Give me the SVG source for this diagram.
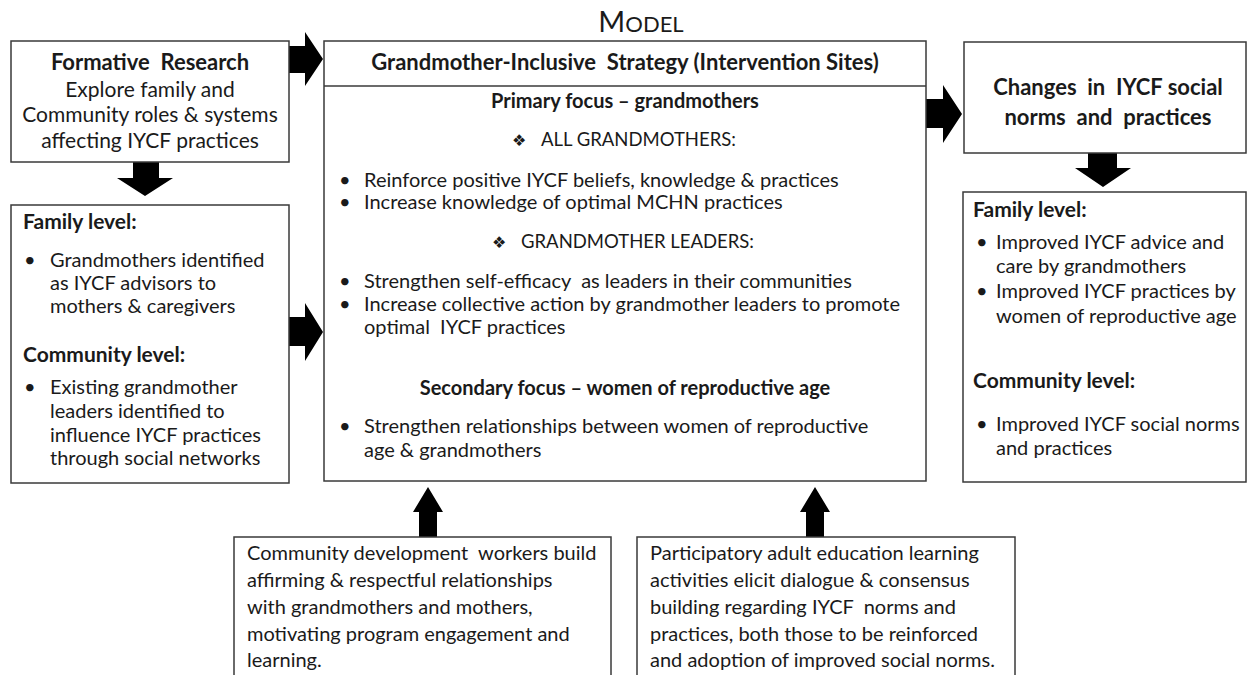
<svg xmlns="http://www.w3.org/2000/svg" width="1248" height="675" viewBox="0 0 1248 675">
<style>
.box{fill:#fff;stroke:#3a3a3a;stroke-width:1.5}
.t{font-family:Lato,"Open Sans","Liberation Sans",sans-serif;fill:#1a1a1a}
.b{font-weight:bold}
.m{font-size:20px}
.l{font-size:20px}
.h{font-size:22px}
.s{font-size:21px}
.k{font-size:18.5px}
.c{text-anchor:middle}
.pre{white-space:pre}
.sym{font-family:"DejaVu Sans",sans-serif;font-size:16px}
.arr{fill:#000}
</style>
<rect width="1248" height="675" fill="#fff"/>
<text class="t c" x="641" y="32"><tspan font-size="29">M</tspan><tspan font-size="22">ODEL</tspan></text>

<g id="connectors">
<polygon class="arr" points="289,46 305,46 305,32 323,59 305,86 305,73 289,73"/>
<polygon class="arr" points="289,317 305,317 305,303 323,332 305,361 305,346 289,346"/>
<polygon class="arr" points="926,99 943,99 943,85 962,114 943,143 943,128 926,128"/>
<polygon class="arr" points="133,162 159,162 159,178 173,178 145,196 117,178 133,178"/>
<polygon class="arr" points="1088,153 1117,153 1117,168 1131,168 1103,187 1075,168 1088,168"/>
<polygon class="arr" points="419,537 437,537 437,512 443,512 428,487 413,512 419,512"/>
<polygon class="arr" points="806,537 824,537 824,512 830,512 815,487 800,512 806,512"/>
</g>

<g id="formative">
<rect class="box" x="11" y="41" width="278" height="121"/>
<text class="t b h c pre" x="150" y="70" xml:space="preserve">Formative  Research</text>
<text class="t s c" x="150" y="97">Explore family and</text>
<text class="t s c" x="150" y="122">Community roles &amp; systems</text>
<text class="t s c" x="150" y="148">affecting IYCF practices</text>
</g>

<g id="findings">
<rect class="box" x="11" y="205" width="278" height="278"/>
<text class="t b s" x="23" y="229">Family level:</text>
<text class="t l" x="24" y="267">•</text>
<text class="t l" x="50" y="267">Grandmothers identified</text>
<text class="t l" x="50" y="290">as IYCF advisors to</text>
<text class="t l" x="50" y="313">mothers &amp; caregivers</text>
<text class="t b s" x="23" y="362">Community level:</text>
<text class="t l" x="24" y="394">•</text>
<text class="t l" x="50" y="394">Existing grandmother</text>
<text class="t l" x="50" y="418">leaders identified to</text>
<text class="t l" x="50" y="442">influence IYCF practices</text>
<text class="t l" x="50" y="465">through social networks</text>
</g>

<g id="strategy">
<rect class="box" x="324" y="41" width="602" height="440"/>
<line x1="324" y1="86" x2="926" y2="86" stroke="#3a3a3a" stroke-width="1.5"/>
<text class="t b h c pre" x="625" y="70" xml:space="preserve">Grandmother-Inclusive  Strategy (Intervention Sites)</text>
<text class="t b m c" x="625" y="108">Primary focus – grandmothers</text>
<text class="t k" x="512" y="146"><tspan class="sym">❖</tspan><tspan x="541">ALL GRANDMOTHERS:</tspan></text>
<text class="t m" x="339" y="187">•</text>
<text class="t m" x="364" y="187">Reinforce positive IYCF beliefs, knowledge &amp; practices</text>
<text class="t m" x="339" y="209">•</text>
<text class="t m" x="364" y="209">Increase knowledge of optimal MCHN practices</text>
<text class="t k" x="492" y="248"><tspan class="sym">❖</tspan><tspan x="521">GRANDMOTHER LEADERS:</tspan></text>
<text class="t m" x="339" y="288">•</text>
<text class="t m pre" x="364" y="288" xml:space="preserve">Strengthen self-efficacy  as leaders in their communities</text>
<text class="t m" x="339" y="311">•</text>
<text class="t m" x="364" y="311">Increase collective action by grandmother leaders to promote</text>
<text class="t m pre" x="364" y="334" xml:space="preserve">optimal  IYCF practices</text>
<text class="t b m c" x="625" y="395">Secondary focus – women of reproductive age</text>
<text class="t m" x="339" y="433">•</text>
<text class="t m" x="364" y="433">Strengthen relationships between women of reproductive</text>
<text class="t m" x="364" y="457">age &amp; grandmothers</text>
</g>

<g id="changes">
<rect class="box" x="964" y="42" width="282" height="111"/>
<text class="t b h c pre" x="1108" y="95" xml:space="preserve">Changes  in  IYCF social</text>
<text class="t b h c pre" x="1108" y="125" xml:space="preserve">norms  and  practices</text>
</g>

<g id="outcomes">
<rect class="box" x="963" y="192" width="283" height="290"/>
<text class="t b s" x="973" y="217">Family level:</text>
<text class="t l" x="976" y="249">•</text>
<text class="t l" x="996" y="249">Improved IYCF advice and</text>
<text class="t l" x="996" y="273">care by grandmothers</text>
<text class="t l" x="976" y="298">•</text>
<text class="t l" x="996" y="298">Improved IYCF practices by</text>
<text class="t l" x="996" y="323">women of reproductive age</text>
<text class="t b s" x="973" y="388">Community level:</text>
<text class="t l" x="976" y="431">•</text>
<text class="t l" x="996" y="431">Improved IYCF social norms</text>
<text class="t l" x="996" y="455">and practices</text>
</g>

<g id="cdw">
<rect class="box" x="234" y="537" width="377" height="145"/>
<text class="t l pre" x="247" y="560" xml:space="preserve">Community development  workers build</text>
<text class="t l" x="247" y="587">affirming &amp; respectful relationships</text>
<text class="t l" x="247" y="614">with grandmothers and mothers,</text>
<text class="t l" x="247" y="641">motivating program engagement and</text>
<text class="t l" x="247" y="667">learning.</text>
</g>

<g id="education">
<rect class="box" x="637" y="537" width="378" height="145"/>
<text class="t l" x="650" y="560">Participatory adult education learning</text>
<text class="t l" x="650" y="587">activities elicit dialogue &amp; consensus</text>
<text class="t l pre" x="650" y="614" xml:space="preserve">building regarding IYCF  norms and</text>
<text class="t l" x="650" y="641">practices, both those to be reinforced</text>
<text class="t l" x="650" y="667">and adoption of improved social norms.</text>
</g>
</svg>
